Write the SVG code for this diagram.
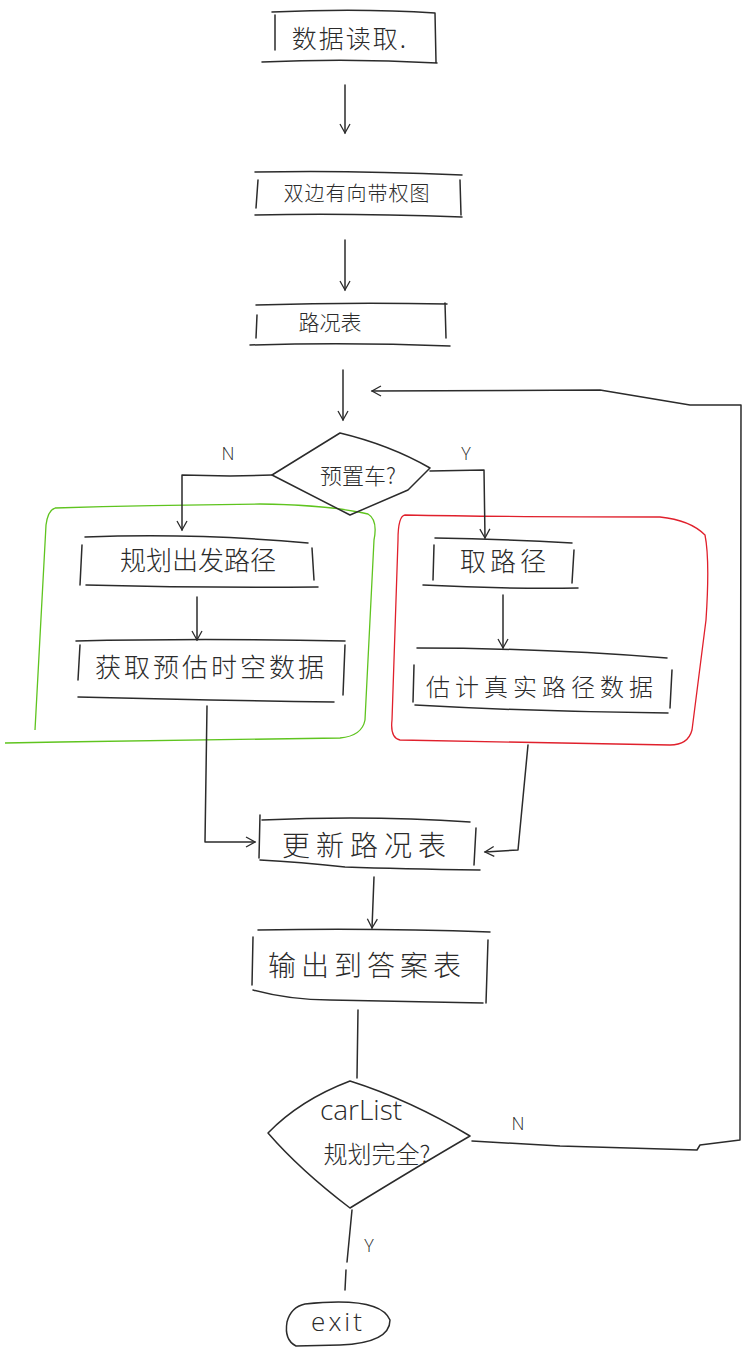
<svg xmlns="http://www.w3.org/2000/svg" width="746" height="1352" viewBox="0 0 746 1352">
<defs>
<style>
.s{fill:none;stroke:#2b2b2b;stroke-width:1.5;stroke-linecap:round;stroke-linejoin:round}
.t{font-family:"Noto Sans CJK SC","Liberation Sans",sans-serif;fill:#2b2b2b;font-weight:300;text-anchor:middle}
.l{font-family:"Open Sans","Liberation Sans","Noto Sans CJK SC",sans-serif;fill:#2b2b2b;font-weight:300;text-anchor:middle}
</style>
<marker id="a" markerWidth="12" markerHeight="12" refX="10" refY="6" orient="auto" markerUnits="userSpaceOnUse">
<path d="M1,1 L10,6 L1,11" fill="none" stroke="#2b2b2b" stroke-width="1.3"/>
</marker>
</defs>
<rect width="746" height="1352" fill="#ffffff"/>

<g id="regions">
<path d="M55,508 Q150,505 260,504 Q330,505 368,514 Q378,520 374,540 L365,720 Q362,736 340,738 L60,742 L5,743" fill="none" stroke="#5fc41f" stroke-width="1.3"/>
<path d="M55,508 Q48,510 46,525 L35,730" fill="none" stroke="#5fc41f" stroke-width="1.3"/>
<path d="M405,515 Q500,517 660,517 Q690,520 705,535 Q710,560 706,620 L692,730 Q688,745 670,745 L400,740 Q390,738 392,720 L398,540 Q398,516 405,515 Z" fill="none" stroke="#e0202c" stroke-width="1.3"/>
</g>

<g id="connectors">
<path class="s" d="M345,85 L345,133" marker-end="url(#a)"/>
<path class="s" d="M345,240 L345,290" marker-end="url(#a)"/>
<path class="s" d="M343,370 L343,420" marker-end="url(#a)"/>
<path class="s" d="M272,475 L230,476 L182,475 L182,530" marker-end="url(#a)"/>
<path class="s" d="M430,471 L484,470 L485,538" marker-end="url(#a)"/>
<path class="s" d="M197,597 L197,640" marker-end="url(#a)"/>
<path class="s" d="M503,595 L503,648" marker-end="url(#a)"/>
<path class="s" d="M207,706 L205,842 L255,842" marker-end="url(#a)"/>
<path class="s" d="M528,745 L518,850 L485,852" marker-end="url(#a)"/>
<path class="s" d="M374,877 L372,928" marker-end="url(#a)"/>
<path class="s" d="M358,1010 L357,1078"/>
<path class="s" d="M472,1141 L560,1146 L697,1150 L700,1145 L740,1140 L741,405 L690,405 L600,390 L372,391" marker-end="url(#a)"/>
<path class="s" d="M352,1210 L347,1262"/>
<path class="s" d="M346,1270 L345,1290"/>
</g>

<g id="n1">
<path class="s" d="M272,12 Q360,8 435,13 M275,15 L275,50 M435,13 L436,62 M262,62 Q350,58 437,63"/>
<text class="t" x="350" y="48" font-size="25" letter-spacing="2">数据读取.</text>
</g>

<g id="n2">
<path class="s" d="M255,172 Q350,170 462,175 M258,180 L256,208 M460,180 L461,215 M255,215 Q350,213 462,217"/>
<text class="t" x="357" y="201" font-size="20" letter-spacing="1">双边有向带权图</text>
</g>

<g id="n3">
<path class="s" d="M256,305 Q350,302 447,304 M257,315 L256,338 M445,303 L446,338 M250,345 Q350,342 450,346"/>
<text class="t" x="330" y="330" font-size="21">路况表</text>
</g>

<g id="d1">
<path class="s" d="M340,433 Q390,445 430,468 L408,490 L350,515 L272,475 Z"/>
<text class="t" x="358" y="484" font-size="22">预置车?</text>
</g>
<g id="lbl">
<text class="l" x="228" y="460" font-size="18">N</text>
<text class="l" x="466" y="460" font-size="18">Y</text>
<text class="l" x="518" y="1130" font-size="18">N</text>
<text class="l" x="369" y="1252" font-size="18">Y</text>
</g>

<g id="n4">
<path class="s" d="M85,537 Q200,533 308,543 M82,545 L80,585 M312,548 L314,580 M86,585 Q200,588 318,587"/>
<text class="t" x="198" y="570" font-size="26">规划出发路径</text>
</g>

<g id="n5">
<path class="s" d="M76,641 Q200,638 345,641 M80,645 L78,680 M345,645 L343,695 M78,697 Q200,700 334,702"/>
<text class="t" x="211" y="677" font-size="26" letter-spacing="3">获取预估时空数据</text>
</g>

<g id="n6">
<path class="s" d="M435,538 Q500,539 572,543 M434,545 L433,580 M574,550 L572,583 M423,585 Q500,589 578,588"/>
<text class="t" x="505" y="571" font-size="26" letter-spacing="4">取路径</text>
</g>

<g id="n7">
<path class="s" d="M417,648 Q540,648 667,658 M414,665 L413,702 M672,670 L670,708 M415,705 Q540,712 668,713"/>
<text class="t" x="542" y="696" font-size="24" letter-spacing="5">估计真实路径数据</text>
</g>

<g id="n8">
<path class="s" d="M262,820 Q370,815 470,822 M260,815 L259,858 M476,828 L474,865 M260,860 Q300,862 345,867 Q400,869 480,870"/>
<text class="t" x="367" y="856" font-size="28" letter-spacing="6">更新路况表</text>
</g>

<g id="n9">
<path class="s" d="M258,930 Q380,928 490,932 M253,937 L252,985 M488,940 L486,1003 M253,990 Q290,1000 330,1000 L483,1003"/>
<text class="t" x="367" y="976" font-size="28" letter-spacing="5">输出到答案表</text>
</g>

<g id="d2">
<path class="s" d="M350,1081 Q410,1100 470,1136 Q420,1165 350,1208 Q300,1170 268,1133 Q300,1100 350,1081 Z"/>
<text class="l" x="361" y="1120" font-size="28">carList</text>
<text class="t" x="377" y="1163" font-size="24">规划完全?</text>
</g>

<g id="n10">
<path class="s" d="M305,1304 Q380,1296 390,1320 Q390,1343 340,1345 L296,1346 Q284,1340 287,1322 Q291,1307 305,1304 Z"/>
<text class="l" x="338" y="1331" font-size="26" letter-spacing="3">exit</text>
</g>
</svg>
